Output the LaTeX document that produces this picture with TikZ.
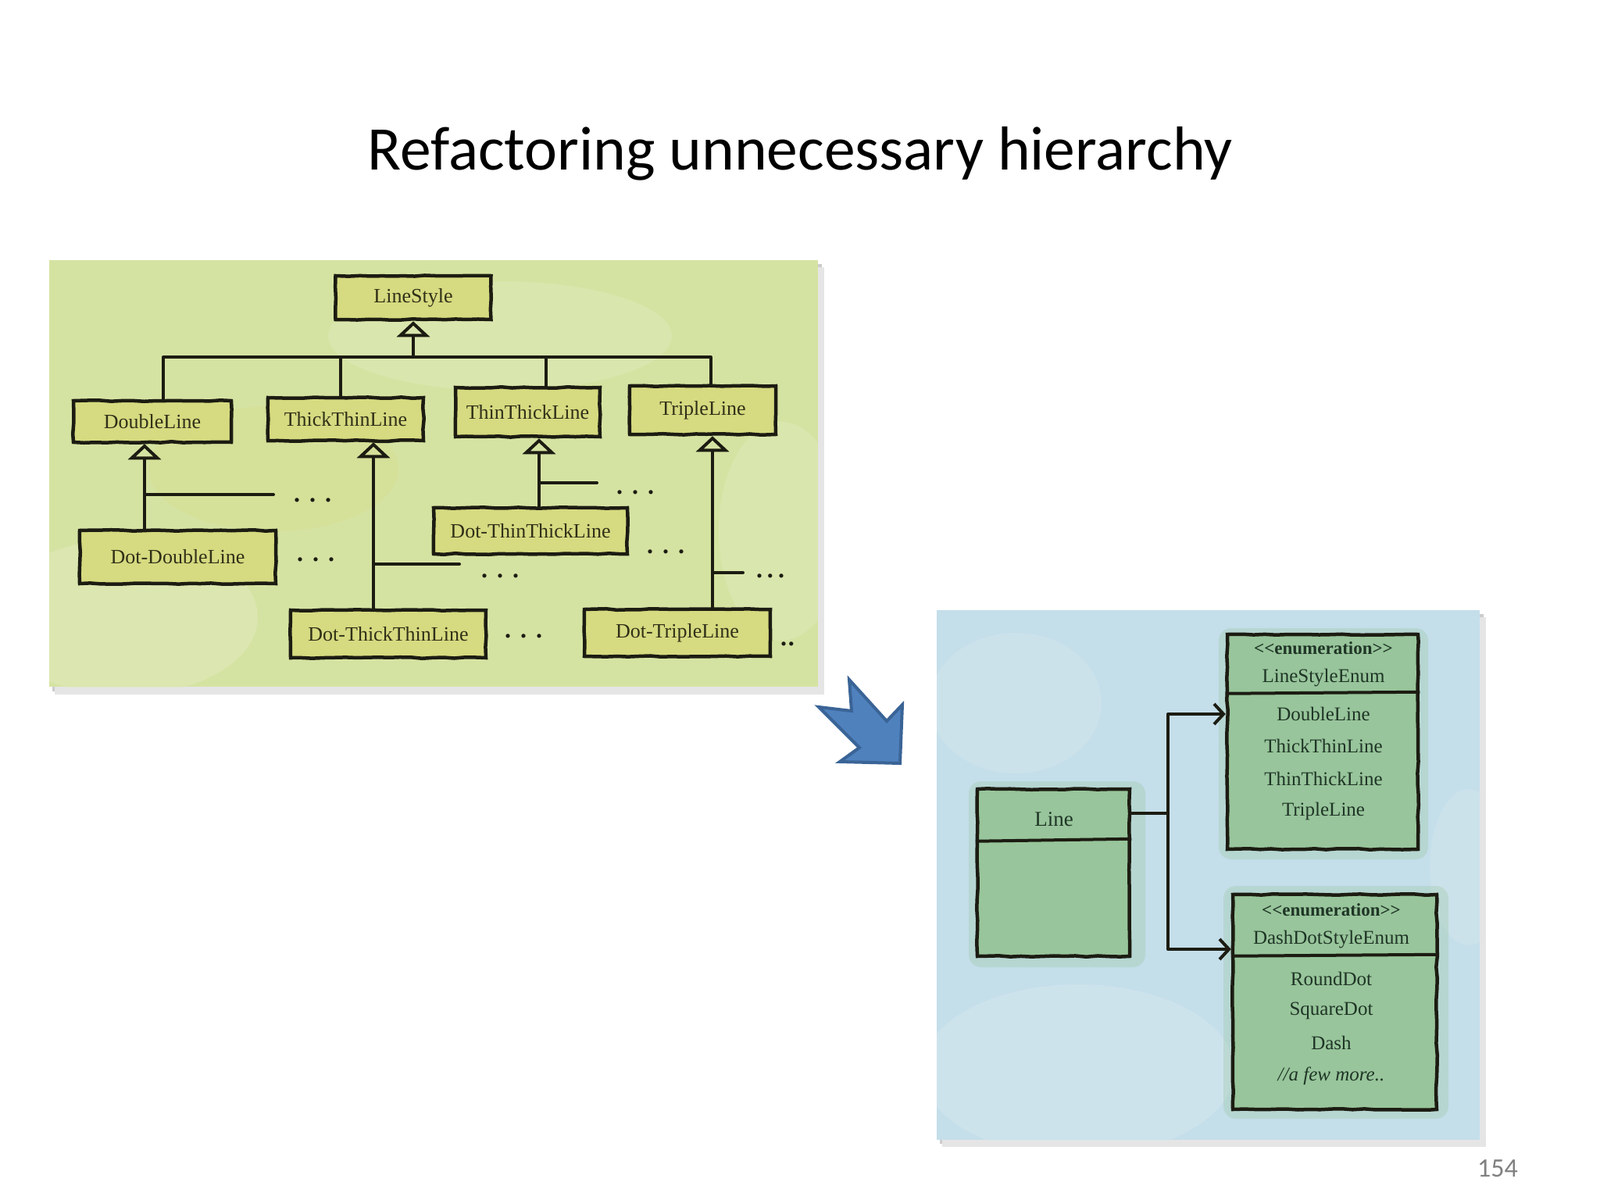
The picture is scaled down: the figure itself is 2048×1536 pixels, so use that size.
\documentclass[tikz,border=0pt]{standalone}
\usepackage{fontspec}
\setmainfont{Carlito}
\newfontfamily\hand{Liberation Serif}
\usetikzlibrary{arrows.meta,decorations.pathmorphing,calc}
\definecolor{ink}{HTML}{1C1C12}
\definecolor{panelG}{HTML}{D5E3A2}
\definecolor{panelGl}{HTML}{E0EABC}
\definecolor{boxY}{HTML}{D6DA80}
\definecolor{txtY}{HTML}{303018}
\definecolor{panelB}{HTML}{C4DEEA}
\definecolor{panelBl}{HTML}{D4E7EE}
\definecolor{boxG}{HTML}{98C59B}
\definecolor{txtG}{HTML}{1F3526}
\definecolor{arrowF}{HTML}{4F81BD}
\definecolor{arrowD}{HTML}{3A6496}
\begin{document}
\begin{tikzpicture}[x=1pt,y=-1pt,
  sketch/.style={decorate,decoration={random steps,segment length=14pt,amplitude=0.8pt}},
  lbox/.style={draw=ink,line width=4.5pt,fill=boxY,sketch,text=txtY,
    font=\hand\fontsize{26}{30}\selectfont,inner sep=0pt},
  rbox/.style={draw=ink,line width=4.5pt,fill=boxG,sketch,inner sep=0pt},
  rtext/.style={text=txtG,font=\hand\fontsize{25}{30}\selectfont,inner sep=0pt},
  stereo/.style={text=txtG,font=\hand\bfseries\fontsize{23}{26}\selectfont,inner sep=0pt},
  conn/.style={draw=ink,line width=4pt,line cap=round,line join=round},
  inh/.style={conn,-{Triangle[open,width=42pt,length=20pt,line width=4pt]}},
  dep/.style={conn,-{Straight Barb[length=12pt,width=26pt,line width=4pt]}},
  dots/.style={anchor=base,text=ink,inner sep=0pt,font=\hand\bfseries\fontsize{32}{32}\selectfont},
  divider/.style={draw=ink,line width=4pt}
]
\useasboundingbox (0,0) rectangle (2048,1536);
\fill[white] (0,0) rectangle (2048,1536);

% title and page number
\node[anchor=base,font=\fontsize{79.5}{90}\selectfont,inner sep=0pt] (title) at (1024,217) {Refactoring unnecessary hierarchy};
\node[text=black!50,font=\fontsize{34}{40}\selectfont,inner sep=0pt] (pagenum) at (1917,1496) {154};

% ---------- left panel ----------
\fill[black!20] (67,338) rectangle (1052,885);
\fill[black!10] (70,342) rectangle (1055,889);
\fill[panelG] (63,333) rectangle (1047,879);
\begin{scope}
\clip (63,333) rectangle (1047,879);
\fill[panelGl,opacity=0.55] (160,790) ellipse (170 and 100);
\fill[panelGl,opacity=0.45] (640,430) ellipse (220 and 70);
\fill[panelGl,opacity=0.45] (1000,680) ellipse (80 and 140);
\fill[boxY,opacity=0.25] (350,600) ellipse (160 and 80);
\end{scope}

\node[lbox,minimum width=199pt,minimum height=56pt] (LS) at (529,381) {LineStyle};
\node[lbox,minimum width=202pt,minimum height=53pt] (DL) at (195,539.5) {DoubleLine};
\node[lbox,minimum width=199pt,minimum height=55pt] (TTL) at (442.5,536.5) {ThickThinLine};
\node[lbox,minimum width=185pt,minimum height=63pt] (TnTL) at (675.5,527.5) {ThinThickLine};
\node[lbox,minimum width=187pt,minimum height=62pt] (TL) at (899.5,525) {TripleLine};
\node[lbox,minimum width=251pt,minimum height=68pt] (DDL) at (227.5,713) {Dot-DoubleLine};
\node[lbox,minimum width=248pt,minimum height=59pt] (DTnTL) at (679,679.5) {Dot-ThinThickLine};
\node[lbox,minimum width=250pt,minimum height=61pt] (DTTL) at (497,811.5) {Dot-ThickThinLine};
\node[lbox,minimum width=238pt,minimum height=60pt] (DTL) at (867,810) {Dot-TripleLine};

% top hierarchy
\coordinate (bus) at (529,457);
\draw[inh] (bus) -- (LS.south);
\draw[conn] ([xshift=14pt]DL.north) |- (bus) -| ([xshift=10pt]TL.north);
\draw[conn] ([xshift=-7pt]TTL.north) -- ([xshift=-7pt]TTL.north |- bus);
\draw[conn] ([xshift=23pt]TnTL.north) -- ([xshift=23pt]TnTL.north |- bus);

% DoubleLine subtree
\coordinate (dlj) at (185,633);
\coordinate (dls) at (350,633);
\draw[inh] (DDL.north -| dlj) -- (DL.south -| dlj);
\draw[conn] (dlj) -- (dls);
\node[dots] (dlDots) at (400,642) {.\hspace{12pt}.\hspace{12pt}.};
\node[dots] (ddlDots) at (404,718) {.\hspace{12pt}.\hspace{12pt}.};

% ThickThinLine subtree
\coordinate (ttj) at (478,722);
\coordinate (tts) at (588,722);
\draw[inh] (DTTL.north -| ttj) -- (TTL.south -| ttj);
\draw[conn] (ttj) -- (tts);
\node[dots] (ttDots) at (640,739) {.\hspace{12pt}.\hspace{12pt}.};
\node[dots] (dttDots) at (670,816) {.\hspace{12pt}.\hspace{12pt}.};

% ThinThickLine subtree
\coordinate (tnj) at (690,618);
\coordinate (tns) at (764,618);
\draw[inh] (DTnTL.north -| tnj) -- (TnTL.south -| tnj);
\draw[conn] (tnj) -- (tns);
\node[dots] (tnDots) at (813,632) {.\hspace{12pt}.\hspace{12pt}.};
\node[dots] (dtnDots) at (852,708) {.\hspace{12pt}.\hspace{12pt}.};

% TripleLine subtree
\coordinate (tlj) at (912,733);
\coordinate (tls) at (951,733);
\draw[inh] (DTL.north -| tlj) -- (TL.south -| tlj);
\draw[conn] (tlj) -- (tls);
\node[dots] (tlDots) at (986,739) {.\hspace{6pt}.\hspace{6pt}.};
\node[dots] (dtlDots) at (1008,826) {.\hspace{2pt}.};

% ---------- blue arrow ----------
\filldraw[fill=arrowF,draw=arrowD,line width=4pt,line join=miter]
  (1087,870) -- (1135,923) -- (1155,902) -- (1152,977) -- (1075,975)
  -- (1100,957) -- (1048,905) -- (1090,910) -- cycle;

% ---------- right panel ----------
\fill[black!20] (1203,786) rectangle (1899,1464);
\fill[black!10] (1206,790) rectangle (1902,1468);
\fill[panelB] (1199,781) rectangle (1894,1459);
\begin{scope}
\clip (1199,781) rectangle (1894,1459);
\fill[panelBl,opacity=0.6] (1380,1370) ellipse (200 and 110);
\fill[panelBl,opacity=0.45] (1300,900) ellipse (110 and 90);
\fill[panelBl,opacity=0.45] (1880,1110) ellipse (50 and 100);
\end{scope}

% watercolour halos
\fill[boxG,opacity=0.3,rounded corners=16pt] (1240,1000) rectangle (1466,1238);
\fill[boxG,opacity=0.3,rounded corners=16pt] (1560,804) rectangle (1828,1100);
\fill[boxG,opacity=0.3,rounded corners=16pt] (1566,1134) rectangle (1854,1432);

\node[rbox,minimum width=195pt,minimum height=214pt] (Line) at (1348.5,1117) {};
\draw[divider] ($(Line.north west)+(0,69)$) -- ($(Line.north east)+(0,66)$);
\node[rtext,font=\hand\fontsize{27}{30}\selectfont] (LineT) at (1349,1049) {Line};

\node[rbox,minimum width=244pt,minimum height=275pt] (LSE) at (1693,949.5) {};
\draw[divider] ($(LSE.north west)+(0,78)$) -- ($(LSE.north east)+(0,76)$);
\node[stereo] (lseS) at (1694,830) {<<enumeration>>};
\node[rtext] (lseN) at (1694,868) {LineStyleEnum};
\node[rtext] (lse1) at (1694,914) {DoubleLine};
\node[rtext] (lse2) at (1694,955) {ThickThinLine};
\node[rtext] (lse3) at (1694,997) {ThinThickLine};
\node[rtext] (lse4) at (1694,1038) {TripleLine};

\node[rbox,minimum width=261pt,minimum height=275pt] (DDE) at (1708.5,1282.5) {};
\draw[divider] ($(DDE.north west)+(0,81)$) -- ($(DDE.north east)+(0,79)$);
\node[stereo] (ddeS) at (1704,1165) {<<enumeration>>};
\node[rtext] (ddeN) at (1704,1203) {DashDotStyleEnum};
\node[rtext] (dde1) at (1704,1253) {RoundDot};
\node[rtext] (dde2) at (1704,1294) {SquareDot};
\node[rtext] (dde3) at (1704,1335) {Dash};
\node[rtext,font=\hand\itshape\fontsize{25}{30}\selectfont] (dde4) at (1704,1377) {//a few more..};

% dependencies
\coordinate (lj) at (1495,1041);
\coordinate (ddeIn) at (DDE.west |- 0,1215);
\draw[conn] (Line.east |- lj) -- (lj);
\draw[dep] (lj) |- (LSE.west |- lse1);
\draw[dep] (lj) |- (ddeIn);
\end{tikzpicture}
\end{document}
